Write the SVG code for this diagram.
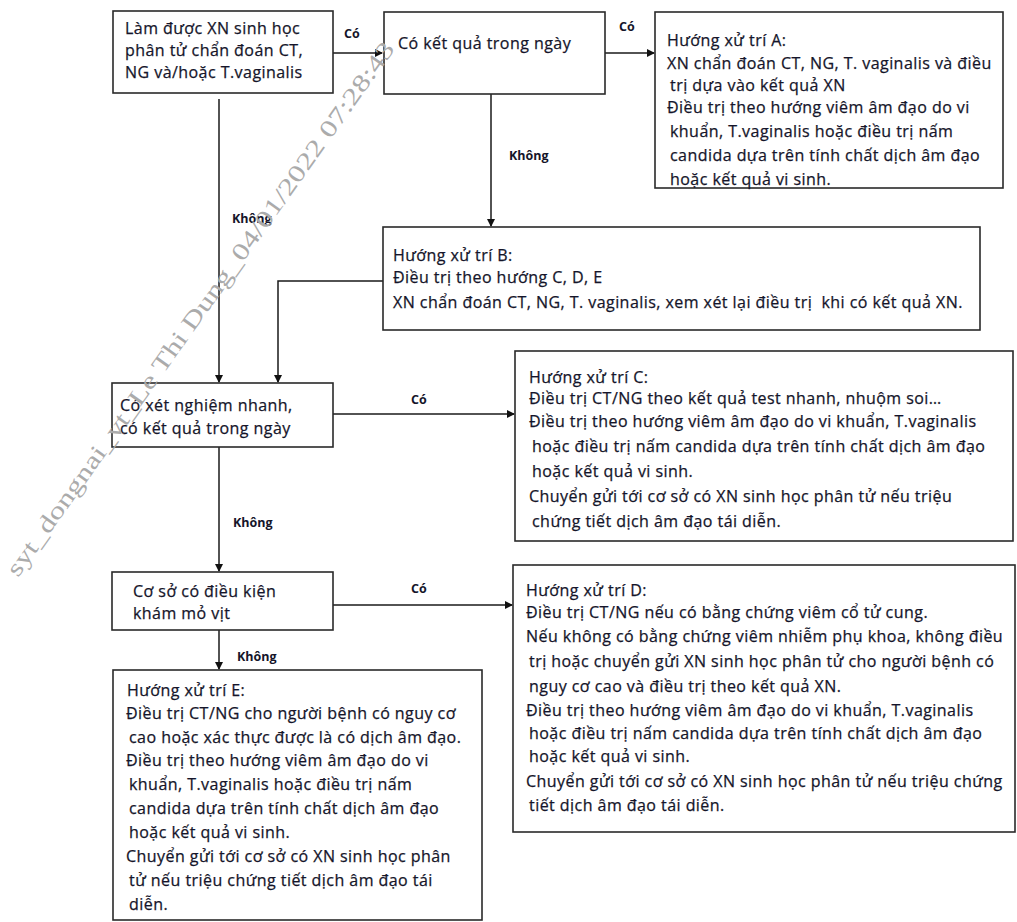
<svg xmlns="http://www.w3.org/2000/svg" width="1017" height="922" viewBox="0 0 1017 922">
<defs>
<marker id="ah" markerWidth="8" markerHeight="8" refX="7" refY="4" orient="auto" markerUnits="userSpaceOnUse">
<path d="M0,0 L8,4 L0,8 Z" fill="#111"/>
</marker>
<style>
.box{fill:#fff;stroke:#2a2a2a;stroke-width:1.6}
.t{font-family:"Open Sans","Liberation Sans",sans-serif;font-size:16px;letter-spacing:0.45px;fill:#15152a;stroke:#15152a;stroke-width:0.25px}
.lbl{font-family:"Open Sans","Liberation Sans",sans-serif;font-size:12.5px;font-weight:bold;fill:#15152a}
.c{fill:none;stroke:#1a1a1a;stroke-width:1.5}
.wm{font-family:"Liberation Serif",serif;font-size:24px;fill:#ababab}
</style>
</defs>
<rect width="1017" height="922" fill="#fff"/>

<g id="connectors">
<path class="c" d="M333,53 H382" marker-end="url(#ah)"/>
<path class="c" d="M605,53 H654" marker-end="url(#ah)"/>
<path class="c" d="M491,94 V226" marker-end="url(#ah)"/>
<path class="c" d="M219,99 V382" marker-end="url(#ah)"/>
<path class="c" d="M383,281 H278 V382" marker-end="url(#ah)"/>
<path class="c" d="M333,414 H514" marker-end="url(#ah)"/>
<path class="c" d="M219,447 V571" marker-end="url(#ah)"/>
<path class="c" d="M333,605 H512" marker-end="url(#ah)"/>
<path class="c" d="M219,630 V669" marker-end="url(#ah)"/>
<text class="lbl" x="344" y="38">Có</text>
<text class="lbl" x="619" y="31">Có</text>
<text class="lbl" x="509" y="160">Không</text>
<text class="lbl" x="232" y="223">Không</text>
<text class="lbl" x="411" y="404">Có</text>
<text class="lbl" x="233" y="527">Không</text>
<text class="lbl" x="411" y="593">Có</text>
<text class="lbl" x="237" y="661">Không</text>
</g>

<g id="n1">
<rect class="box" x="113" y="11" width="220" height="82"/>
<text class="t" x="125" y="34">Làm được XN sinh học</text>
<text class="t" x="125" y="56">phân tử chẩn đoán CT,</text>
<text class="t" x="125" y="78">NG và/hoặc T.vaginalis</text>
</g>

<g id="n2">
<rect class="box" x="384" y="12" width="221" height="82"/>
<text class="t" x="398" y="49">Có kết quả trong ngày</text>
</g>

<g id="nA">
<rect class="box" x="655" y="12" width="348" height="176"/>
<text class="t" x="667" y="46">Hướng xử trí A:</text>
<text class="t" x="667" y="69">XN chẩn đoán CT, NG, T. vaginalis và điều</text>
<text class="t" x="670" y="91">trị dựa vào kết quả XN</text>
<text class="t" x="667" y="113">Điều trị theo hướng viêm âm đạo do vi</text>
<text class="t" x="670" y="137">khuẩn, T.vaginalis hoặc điều trị nấm</text>
<text class="t" x="670" y="161">candida dựa trên tính chất dịch âm đạo</text>
<text class="t" x="670" y="185">hoặc kết quả vi sinh.</text>
</g>

<g id="nB">
<rect class="box" x="383" y="227" width="597" height="103"/>
<text class="t" x="393" y="261">Hướng xử trí B:</text>
<text class="t" x="393" y="283">Điều trị theo hướng C, D, E</text>
<text class="t" x="393" y="308" xml:space="preserve">XN chẩn đoán CT, NG, T. vaginalis, xem xét lại điều trị  khi có kết quả XN.</text>
</g>

<g id="n3">
<rect class="box" x="112" y="383" width="221" height="64"/>
<text class="t" x="120" y="411">Có xét nghiệm nhanh,</text>
<text class="t" x="120" y="434">có kết quả trong ngày</text>
</g>

<g id="nC">
<rect class="box" x="515" y="351" width="498" height="190"/>
<text class="t" x="529" y="383">Hướng xử trí C:</text>
<text class="t" x="529" y="404">Điều trị CT/NG theo kết quả test nhanh, nhuộm soi…</text>
<text class="t" x="529" y="427">Điều trị theo hướng viêm âm đạo do vi khuẩn, T.vaginalis</text>
<text class="t" x="532" y="452">hoặc điều trị nấm candida dựa trên tính chất dịch âm đạo</text>
<text class="t" x="532" y="477">hoặc kết quả vi sinh.</text>
<text class="t" x="529" y="502">Chuyển gửi tới cơ sở có XN sinh học phân tử nếu triệu</text>
<text class="t" x="532" y="527">chứng tiết dịch âm đạo tái diễn.</text>
</g>

<g id="n4">
<rect class="box" x="112" y="572" width="221" height="58"/>
<text class="t" x="133" y="597">Cơ sở có điều kiện</text>
<text class="t" x="133" y="619">khám mỏ vịt</text>
</g>

<g id="nD">
<rect class="box" x="513" y="565" width="502" height="267"/>
<text class="t" x="526" y="596">Hướng xử trí D:</text>
<text class="t" x="526" y="618">Điều trị CT/NG nếu có bằng chứng viêm cổ tử cung.</text>
<text class="t" x="526" y="642">Nếu không có bằng chứng viêm nhiễm phụ khoa, không điều</text>
<text class="t" x="529" y="667">trị hoặc chuyển gửi XN sinh học phân tử cho người bệnh có</text>
<text class="t" x="529" y="692">nguy cơ cao và điều trị theo kết quả XN.</text>
<text class="t" x="526" y="716">Điều trị theo hướng viêm âm đạo do vi khuẩn, T.vaginalis</text>
<text class="t" x="529" y="739">hoặc điều trị nấm candida dựa trên tính chất dịch âm đạo</text>
<text class="t" x="529" y="762">hoặc kết quả vi sinh.</text>
<text class="t" x="526" y="787">Chuyển gửi tới cơ sở có XN sinh học phân tử nếu triệu chứng</text>
<text class="t" x="529" y="811">tiết dịch âm đạo tái diễn.</text>
</g>

<g id="nE">
<rect class="box" x="113" y="670" width="369" height="250"/>
<text class="t" x="127" y="696">Hướng xử trí E:</text>
<text class="t" x="126" y="719">Điều trị CT/NG cho người bệnh có nguy cơ</text>
<text class="t" x="129" y="743">cao hoặc xác thực được là có dịch âm đạo.</text>
<text class="t" x="126" y="766">Điều trị theo hướng viêm âm đạo do vi</text>
<text class="t" x="129" y="790">khuẩn, T.vaginalis hoặc điều trị nấm</text>
<text class="t" x="129" y="814">candida dựa trên tính chất dịch âm đạo</text>
<text class="t" x="129" y="838">hoặc kết quả vi sinh.</text>
<text class="t" x="126" y="862">Chuyển gửi tới cơ sở có XN sinh học phân</text>
<text class="t" x="129" y="886">tử nếu triệu chứng tiết dịch âm đạo tái</text>
<text class="t" x="129" y="910">diễn.</text>
</g>

<g id="watermark">
<text class="wm" x="0" y="0" transform="translate(18,578) rotate(-54.5)" textLength="650" lengthAdjust="spacingAndGlyphs">syt_dongnai_vt_Le Thi Dung_04/01/2022 07:28:43</text>
</g>
</svg>
